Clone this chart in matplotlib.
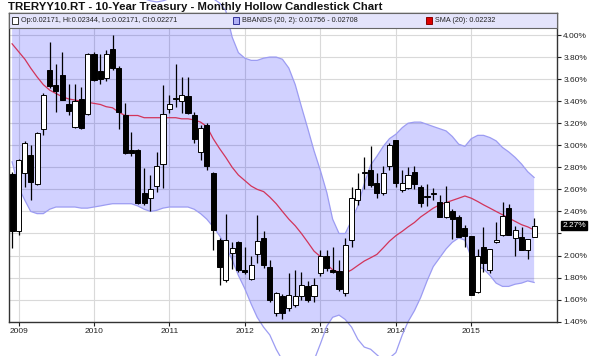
import numpy as np
import pandas as pd
import matplotlib
matplotlib.use("Agg")
import matplotlib.pyplot as plt
import matplotlib.dates as mdates
import matplotlib.transforms as mtransforms
from matplotlib.patches import Rectangle

plt.rcParams['font.family'] = ['Liberation Sans', 'DejaVu Sans']

title = "TRERYY10.RT - 10-Year Treasury - Monthly Hollow Candlestick Chart"
start_month = "2008-12-01"

opens = [2.74, 2.22, 2.75, 2.91, 2.65, 3.15, 3.68, 3.55, 3.64, 3.37, 3.17, 3.42,
         3.28, 3.83, 3.67, 3.61, 3.87, 3.70, 3.27, 2.96, 2.96, 2.57, 2.52, 2.63,
         2.83, 3.33, 3.43, 3.40, 3.45, 3.27, 2.94, 3.18, 2.75, 2.14, 1.78, 2.02,
         2.12, 1.87, 1.79, 2.01, 2.16, 1.90, 1.48, 1.63, 1.52, 1.55, 1.63, 1.72,
         1.63, 1.84, 2.00, 1.87, 1.86, 1.66, 2.14, 2.50, 2.75, 2.78, 2.66, 2.57,
         2.81, 3.05, 2.59, 2.61, 2.76, 2.62, 2.53, 2.56, 2.49, 2.35, 2.40, 2.35,
         2.25, 2.18, 1.67, 2.08, 1.87, 2.12, 2.19, 2.43, 2.16, 2.17, 2.05, 2.171]
highs = [2.76, 2.88, 3.04, 3.00, 3.12, 3.47, 3.94, 3.74, 3.85, 3.56, 3.56, 3.53,
         3.84, 3.85, 3.83, 3.86, 4.00, 3.72, 3.38, 3.12, 2.97, 2.79, 2.73, 2.94,
         3.55, 3.46, 3.74, 3.62, 3.62, 3.30, 3.18, 3.20, 2.76, 2.16, 2.38, 2.12,
         2.13, 2.08, 2.00, 2.37, 2.22, 1.96, 1.67, 1.65, 1.84, 1.87, 1.85, 1.77,
         1.80, 2.05, 2.05, 2.08, 1.96, 2.16, 2.62, 2.75, 2.89, 2.99, 2.75, 2.81,
         3.02, 3.05, 2.78, 2.80, 2.81, 2.64, 2.65, 2.61, 2.55, 2.63, 2.42, 2.37,
         2.28, 2.18, 2.06, 2.26, 2.06, 2.30, 2.49, 2.47, 2.27, 2.26, 2.15, 2.344]
lows = [2.07, 2.19, 2.62, 2.50, 2.64, 3.09, 3.52, 3.30, 3.41, 3.27, 3.16, 3.15,
        3.27, 3.58, 3.56, 3.58, 3.68, 3.15, 2.92, 2.90, 2.47, 2.46, 2.40, 2.58,
        2.61, 3.29, 3.35, 3.29, 3.28, 3.02, 2.87, 2.78, 2.05, 1.73, 1.76, 1.88,
        1.85, 1.83, 1.78, 1.93, 1.89, 1.58, 1.45, 1.42, 1.50, 1.53, 1.60, 1.58,
        1.58, 1.81, 1.86, 1.84, 1.68, 1.63, 2.08, 2.46, 2.60, 2.62, 2.52, 2.55,
        2.78, 2.62, 2.58, 2.60, 2.60, 2.44, 2.45, 2.50, 2.35, 2.34, 2.15, 2.17,
        2.08, 1.64, 1.66, 1.85, 1.84, 2.11, 2.18, 2.19, 2.00, 2.05, 1.97, 2.171]
closes = [2.22, 2.87, 3.02, 2.67, 3.11, 3.46, 3.54, 3.49, 3.41, 3.31, 3.40, 3.16,
          3.83, 3.59, 3.60, 3.83, 3.70, 3.30, 2.93, 2.93, 2.48, 2.48, 2.60, 2.81,
          3.28, 3.37, 3.42, 3.46, 3.29, 3.06, 3.16, 2.81, 2.23, 1.90, 2.14, 2.07,
          1.87, 1.85, 1.91, 2.13, 1.91, 1.60, 1.66, 1.48, 1.64, 1.63, 1.73, 1.60,
          1.73, 2.00, 1.89, 1.85, 1.70, 2.10, 2.52, 2.60, 2.76, 2.64, 2.57, 2.75,
          3.00, 2.66, 2.66, 2.73, 2.65, 2.48, 2.54, 2.57, 2.35, 2.49, 2.33, 2.17,
          2.18, 1.64, 2.00, 1.93, 2.06, 2.14, 2.36, 2.19, 2.23, 2.05, 2.15, 2.271]
sma20 = [3.92, 3.85, 3.78, 3.70, 3.62, 3.55, 3.50, 3.47, 3.44, 3.42, 3.41, 3.40,
         3.39, 3.38, 3.37, 3.35, 3.34, 3.30, 3.27, 3.27, 3.27, 3.25, 3.25, 3.25,
         3.25, 3.25, 3.25, 3.24, 3.24, 3.23, 3.21, 3.17, 3.06, 2.97, 2.89, 2.80,
         2.73, 2.68, 2.63, 2.60, 2.58, 2.53, 2.47, 2.40, 2.33, 2.27, 2.20, 2.12,
         2.04, 1.99, 1.92, 1.87, 1.85, 1.84, 1.87, 1.91, 1.95, 1.98, 2.01, 2.07,
         2.13, 2.18, 2.22, 2.26, 2.30, 2.35, 2.39, 2.43, 2.46, 2.48, 2.50, 2.52,
         2.54, 2.52, 2.49, 2.46, 2.43, 2.40, 2.37, 2.34, 2.31, 2.28, 2.26, 2.232]
bb_upper = [4.95, 5.00, 5.00, 4.95, 4.85, 4.75, 4.65, 4.55, 4.50, 4.45, 4.42, 4.40,
            4.40, 4.42, 4.42, 4.42, 4.40, 4.38, 4.36, 4.35, 4.34, 4.33, 4.31, 4.30,
            4.31, 4.33, 4.35, 4.36, 4.36, 4.36, 4.36, 4.35, 4.33, 4.29, 4.22, 3.98,
            3.84, 3.79, 3.77, 3.77, 3.79, 3.80, 3.80, 3.78, 3.70, 3.55, 3.35, 3.15,
            2.95, 2.77, 2.57, 2.33, 2.20, 2.20, 2.32, 2.45, 2.65, 2.82, 2.90, 2.99,
            3.06, 3.10, 3.16, 3.20, 3.21, 3.21, 3.19, 3.17, 3.15, 3.13, 3.08, 3.01,
            2.99, 3.06, 3.09, 3.09, 3.07, 3.04, 2.98, 2.94, 2.89, 2.83, 2.76, 2.708]
bb_lower = [2.85, 2.62, 2.50, 2.40, 2.38, 2.38, 2.42, 2.44, 2.44, 2.44, 2.44, 2.43,
            2.43, 2.44, 2.45, 2.46, 2.47, 2.47, 2.47, 2.47, 2.45, 2.42, 2.40, 2.41,
            2.43, 2.44, 2.44, 2.44, 2.44, 2.42, 2.38, 2.33, 2.26, 2.18, 2.08, 1.96,
            1.82, 1.70, 1.56, 1.44, 1.35, 1.28, 1.15, 1.05, 0.98, 0.95, 0.95, 0.98,
            1.05, 1.20, 1.36, 1.44, 1.46, 1.42, 1.35, 1.24, 1.17, 1.15, 1.10, 1.05,
            1.07, 1.12, 1.28, 1.40, 1.50, 1.62, 1.77, 1.90, 1.98, 2.06, 2.12, 2.16,
            2.14, 1.98, 1.90, 1.88, 1.82, 1.75, 1.72, 1.72, 1.74, 1.75, 1.77, 1.756]
year_labels = ["2009", "2010", "2011", "2012", "2013", "2014", "2015"]
ytick_vals = [1.40, 1.60, 1.80, 2.00, 2.20, 2.40, 2.60, 2.80, 3.00, 3.20,
              3.40, 3.60, 3.80, 4.00]
last_label = "2.27%"
legend_ohlc = "Op:0.02171, Hi:0.02344, Lo:0.02171, Cl:0.02271"
legend_bb = "BBANDS (20, 2): 0.01756 - 0.02708"
legend_sma = "SMA (20): 0.02232"

dates = pd.date_range(start_month, periods=len(closes), freq="MS")
x = mdates.date2num(dates.to_pydatetime())

fig = plt.figure(figsize=(6.05, 3.56), dpi=100)
L, R, T, B = 8.5, 557.0, 13.0, 321.7
ax = fig.add_axes([L / 605, (356 - B) / 356, (R - L) / 605, (B - T) / 356])

y_top = 4.00 + (35 - T) / 110.25
ax.set_ylim(1.40, y_top)
x0 = mdates.date2num(pd.Timestamp("2009-01-01"))
ax.set_xlim(x0 - 48.4, x0 + 2605.7)

# grid
ax.set_axisbelow(True)
ax.grid(True, color="#d9d9d9", lw=0.8, zorder=0)

# bollinger band
ax.fill_between(x, bb_lower, bb_upper, color="#0000ff", alpha=0.18, lw=0, zorder=1)
ax.plot(x, bb_upper, color="#9c9cf2", lw=0.9, zorder=2, clip_on=False)
ax.plot(x, bb_lower, color="#9c9cf2", lw=0.9, zorder=2, clip_on=False)

# SMA
ax.plot(x, sma20, color="#d2345a", lw=0.9, zorder=3)

# candles
w = 25.0
for xi, o, h, l, c in zip(x, opens, highs, lows, closes):
    ax.vlines(xi, l, h, color="black", lw=0.9, zorder=4)
    lo, hi = min(o, c), max(o, c)
    hgt = max(hi - lo, 0.008)
    face = "white" if c >= o else "black"
    ax.bar(xi, hgt, bottom=lo, width=w, color=face, edgecolor="black",
           lw=0.7, zorder=5)

# axes styling
ax.yaxis.tick_right()
ax.set_yticks(ytick_vals)
ax.set_yticklabels(["" if abs(v - 2.20) < 1e-9 else f"{v:.2f}%" for v in ytick_vals])
years = [mdates.date2num(pd.Timestamp(f"{y}-01-01")) for y in year_labels]
ax.set_xticks(years)
ax.set_xticklabels(year_labels)
ax.tick_params(axis="y", which="both", length=3, width=0.8, labelsize=6,
               pad=1.5, colors="#222222")
ax.tick_params(axis="x", length=3, width=0.8, labelsize=6, pad=1.5,
               colors="#222222")
for s in ["left", "right", "bottom", "top"]:
    ax.spines[s].set_color("#333333")
    ax.spines[s].set_linewidth(1.0)

# current value label
trans = mtransforms.blended_transform_factory(ax.transAxes, ax.transData)
ax.text(1.01, closes[-1], last_label, transform=trans, fontsize=6, color="white",
        va="center", ha="left",
        bbox=dict(boxstyle="square,pad=0.12", fc="black", ec="black"))

# legend box
lg_h = 15.0 / (B - T)
ax.add_patch(Rectangle((0, 1 - lg_h), 1, lg_h, transform=ax.transAxes,
                       facecolor="#e4e4fb", edgecolor="#666666", lw=0.8,
                       zorder=8, clip_on=False))
ly = 1 - lg_h / 2


def sq(xpx, fc, ec):
    ax.add_patch(Rectangle(((xpx - L) / (R - L), ly - 3.2 / (B - T)),
                           6.0 / (R - L), 6.4 / (B - T), transform=ax.transAxes,
                           facecolor=fc, edgecolor=ec, lw=0.7, zorder=9,
                           clip_on=False))


sq(12, "white", "#333333")
ax.text((21 - L) / (R - L), ly, legend_ohlc, transform=ax.transAxes, fontsize=5.2,
        va="center", ha="left", zorder=10, color="#222222")
sq(233, "#b0b0f5", "#333399")
ax.text((242 - L) / (R - L), ly, legend_bb, transform=ax.transAxes, fontsize=5.2,
        va="center", ha="left", zorder=10, color="#222222")
sq(426, "#dd0000", "#880000")
ax.text((435 - L) / (R - L), ly, legend_sma, transform=ax.transAxes, fontsize=5.2,
        va="center", ha="left", zorder=10, color="#222222")

fig.text(8 / 605, 1 - 7 / 356, title, fontsize=8.2, fontweight="bold",
         va="center", ha="left", color="#111111")

fig.savefig("out.png", dpi=100)
